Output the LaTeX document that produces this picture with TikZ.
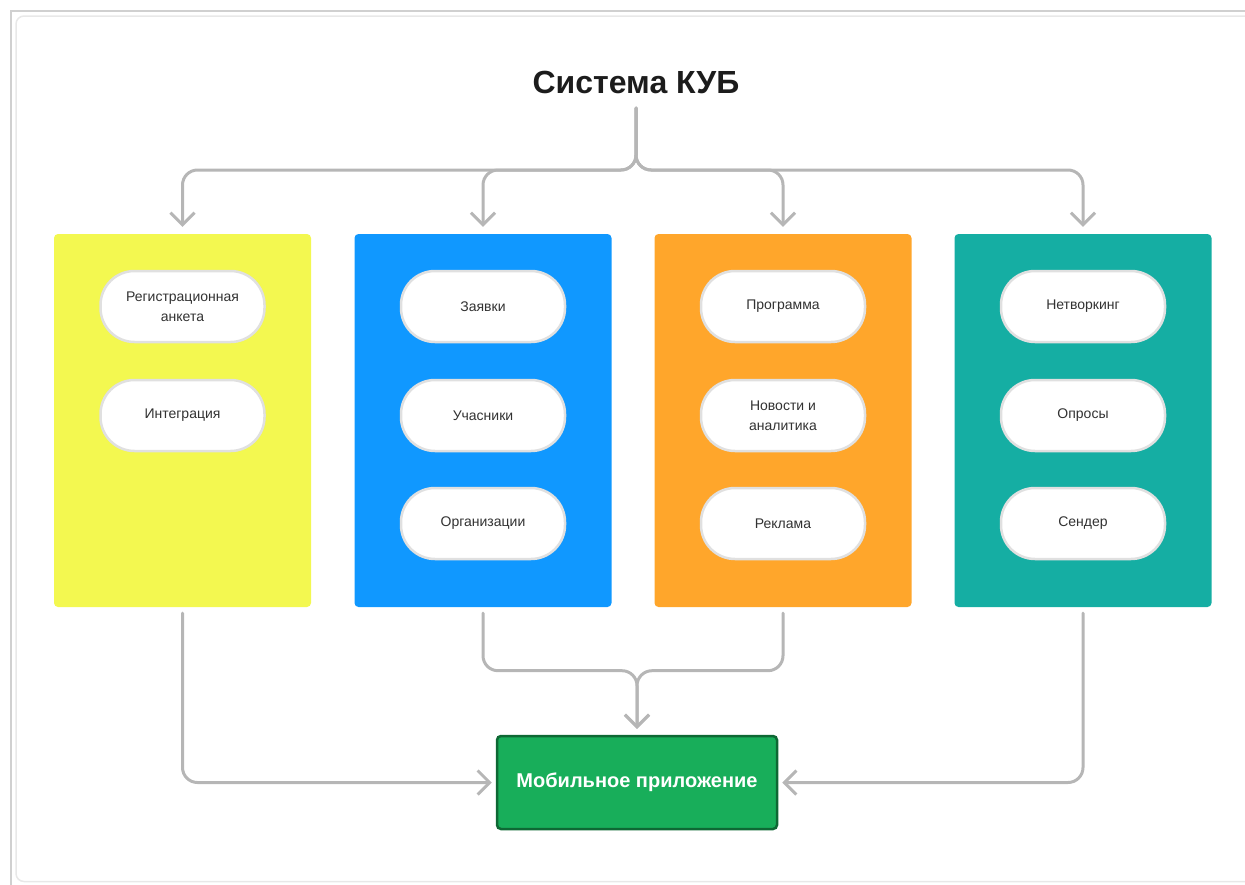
\documentclass[tikz,border=0pt]{standalone}
\usepackage{fontspec}
\setmainfont{Liberation Sans}
\usetikzlibrary{arrows.meta}
\definecolor{cyellow}{RGB}{243,248,80}
\definecolor{cblue}{RGB}{16,152,255}
\definecolor{corange}{RGB}{255,166,43}
\definecolor{cteal}{RGB}{21,174,163}
\definecolor{cgreen}{RGB}{24,174,90}
\definecolor{cgreendark}{RGB}{14,104,52}
\definecolor{cline}{RGB}{182,182,182}
\definecolor{ctext}{RGB}{50,50,50}
\definecolor{ctitle}{RGB}{28,28,28}
\definecolor{cframe}{RGB}{208,208,208}
\definecolor{cframein}{RGB}{232,232,232}
\begin{document}
\begin{tikzpicture}[x=1pt,y=1pt,
  column/.style={rectangle, rounded corners=4pt, minimum width=257pt, minimum height=373pt, inner sep=0pt},
  pill/.style={rectangle, rounded corners=34pt, fill=white, draw=black!12, line width=2.5pt,
    minimum width=164pt, minimum height=71pt, align=center, inner sep=2pt,
    font=\fontsize{14}{20}\selectfont, text=ctext},
  conn/.style={draw=cline, line width=3pt, rounded corners=15pt, line cap=round, line join=round,
    -{Straight Barb[length=12pt,width=24pt,line width=3pt]}},
  app/.style={rectangle, rounded corners=4pt, fill=cgreen, draw=cgreendark, line width=2.5pt,
    minimum width=280pt, minimum height=93pt, text=white, font=\fontsize{20}{22}\selectfont\bfseries},
  title/.style={font=\fontsize{32}{36}\selectfont\bfseries, text=ctitle, inner sep=0pt}
]
\useasboundingbox (0,0) rectangle (1245,-884);
% frame
\draw[cframe, line width=1.2pt] (1250,-11) -- (11,-11) -- (11,-890);
\draw[cframein, line width=1.5pt, rounded corners=8pt] (1250,-16) -- (16,-16) -- (16,-881.5) -- (1250,-881.5);

% title
\node[title] (title) at (636,-82) {Система КУБ};
\coordinate (trunk) at (636,-108);

% columns
\node[column, fill=cyellow] (c1) at (182.5,-420.5) {};
\node[column, fill=cblue]   (c2) at (483,-420.5) {};
\node[column, fill=corange] (c3) at (783,-420.5) {};
\node[column, fill=cteal]   (c4) at (1083,-420.5) {};

% pills
\node[pill] (p11) at (182.5,-306.5) {Регистрационная\\анкета};
\node[pill] (p12) at (182.5,-415.5) {Интеграция};

\node[pill] (p21) at (483,-306.5) {Заявки};
\node[pill] (p22) at (483,-415.5) {Учасники};
\node[pill] (p23) at (483,-523.5) {Организации};

\node[pill] (p31) at (783,-306.5) {Программа};
\node[pill] (p32) at (783,-415.5) {Новости и\\аналитика};
\node[pill] (p33) at (783,-523.5) {Реклама};

\node[pill] (p41) at (1083,-306.5) {Нетворкинг};
\node[pill] (p42) at (1083,-415.5) {Опросы};
\node[pill] (p43) at (1083,-523.5) {Сендер};

% app
\node[app] (app) at (637,-782.5) {Мобильное приложение};

% top connectors
\draw[conn, shorten >=7pt] (trunk) -- ++(0,-62) -| (c1.north);
\draw[conn, shorten >=7pt] (trunk) -- ++(0,-62) -| (c2.north);
\draw[conn, shorten >=7pt] (trunk) -- ++(0,-62) -| (c3.north);
\draw[conn, shorten >=7pt] (trunk) -- ++(0,-62) -| (c4.north);

% bottom connectors
\draw[conn, shorten <=6pt, shorten >=4pt] (c1.south) |- (app.west);
\draw[conn, shorten <=6pt, shorten >=4pt] (c4.south) |- (app.east);
\draw[conn, shorten <=6pt, shorten >=6pt] (c2.south) -- ++(0,-63.5) -| (app.north);
\draw[conn, shorten <=6pt, shorten >=6pt] (c3.south) -- ++(0,-63.5) -| (app.north);
\end{tikzpicture}
\end{document}
